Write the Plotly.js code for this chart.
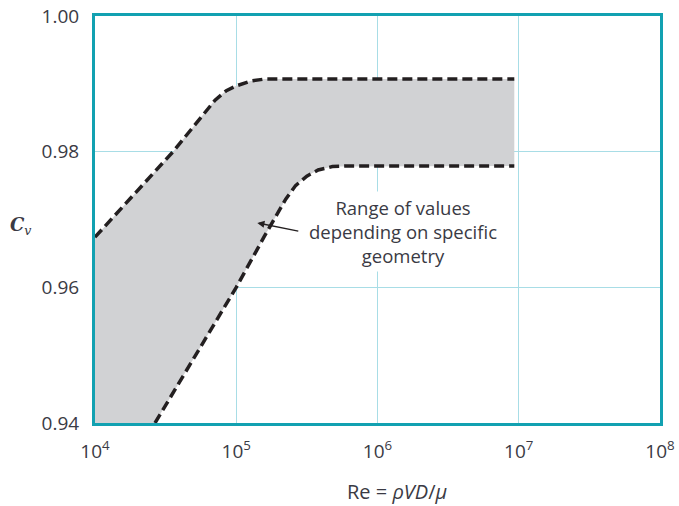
<!DOCTYPE html>
<html>
<head>
<meta charset="utf-8">
<script src="https://cdn.plot.ly/plotly-3.0.1.min.js"></script>
<style>html,body{margin:0;padding:0;background:#fff;}#chart{width:679px;height:506px;}</style>
</head>
<body>
<div id="chart"></div>
<script>
// Upper bound of Cv range
var upperRe = [1.0e4, 3.57e4, 7.08e4, 8.51e4, 1.0e5, 1.26e5, 1.58e5, 9.3e6];
var upperCv = [0.9674, 0.9800, 0.9876, 0.9890, 0.9897, 0.9904, 0.9907, 0.9907];
// Lower bound of Cv range
var lowerRe = [2.66e4, 1.0e5, 1.58e5, 2.24e5, 2.63e5, 3.16e5, 3.80e5, 4.79e5, 6.31e5, 9.3e6];
var lowerCv = [0.9400, 0.9600, 0.9675, 0.9730, 0.9750, 0.9764, 0.9773, 0.9778, 0.9779, 0.9779];
// Axis ticks
var xTickVals = [1e4, 1e5, 1e6, 1e7, 1e8];
var xTickText = ['10<sup>4</sup>', '10<sup>5</sup>', '10<sup>6</sup>', '10<sup>7</sup>', '10<sup>8</sup>'];
var yTickVals = [0.94, 0.96, 0.98, 1.00];
var yTickText = ['0.94', '0.96', '0.98', '1.00'];
var yMin = 0.94, xMin = 1e4;

var bandX = upperRe.concat(lowerRe.slice().reverse()).concat([xMin]);
var bandY = upperCv.concat(lowerCv.slice().reverse()).concat([yMin]);

var textColor = '#3a3a44';
var font = 'Open Sans, Liberation Sans, sans-serif';

var traces = [
  {x: bandX, y: bandY, type: 'scatter', mode: 'lines', fill: 'toself',
   fillcolor: '#d1d2d4', line: {width: 0, color: 'rgba(0,0,0,0)'}, hoverinfo: 'skip', showlegend: false},
  {x: upperRe, y: upperCv, type: 'scatter', mode: 'lines',
   line: {color: '#231f20', width: 3.5, dash: '10px,5px'}, showlegend: false},
  {x: lowerRe, y: lowerCv, type: 'scatter', mode: 'lines',
   line: {color: '#231f20', width: 3.5, dash: '10px,5px'}, showlegend: false}
];

var layout = {
  width: 679, height: 506,
  margin: {l: 95, r: 19, t: 16, b: 83},
  paper_bgcolor: '#fff', plot_bgcolor: '#fff',
  showlegend: false,
  font: {family: font, size: 19, color: textColor},
  xaxis: {
    type: 'log', range: [4, 8],
    tickvals: xTickVals, ticktext: xTickText,
    showgrid: true, gridcolor: '#a8dde6', gridwidth: 1,
    showline: true, mirror: true, linecolor: '#12a1b1', linewidth: 3,
    ticks: 'outside', ticklen: 9, tickcolor: 'rgba(0,0,0,0)',
    tickfont: {family: font, size: 19, color: textColor},
    zeroline: false, fixedrange: true
  },
  yaxis: {
    range: [0.94, 1.00],
    tickvals: yTickVals, ticktext: yTickText,
    showgrid: true, gridcolor: '#a8dde6', gridwidth: 1,
    showline: true, mirror: true, linecolor: '#12a1b1', linewidth: 3,
    ticks: 'outside', ticklen: 9, tickcolor: 'rgba(0,0,0,0)',
    tickfont: {family: font, size: 19, color: textColor},
    zeroline: false, fixedrange: true
  },
  annotations: [
    {xref: 'x', yref: 'y', x: 6.184, y: 0.9683,
     text: 'Range of values<br>depending on specific<br>geometry',
     showarrow: false, bgcolor: '#fff', borderpad: 3,
     font: {family: font, size: 18.5, color: textColor}, align: 'center'},
    {xref: 'x', yref: 'y', x: 5.149, y: 0.9695, text: ' ',
     showarrow: true, arrowhead: 2, arrowsize: 1.1, arrowwidth: 1.3, arrowcolor: '#231f20',
     ax: 45, ay: 9, standoff: 0},
    {xref: 'paper', yref: 'paper', x: 0.535, y: -0.1695, xanchor: 'center', yanchor: 'middle',
     text: 'Re = <i>ρVD</i>/<i>μ</i>', showarrow: false,
     font: {family: font, size: 20, color: textColor}},
    {xref: 'paper', yref: 'paper', x: -0.131, y: 0.484, xanchor: 'center', yanchor: 'middle',
     text: '<b><i>C</i></b><sub><i>v</i></sub>', showarrow: false,
     font: {family: 'DejaVu Serif, Liberation Serif, serif', size: 18, color: textColor}}
  ]
};

Plotly.newPlot('chart', traces, layout, {displayModeBar: false, staticPlot: true});
</script>
</body>
</html>
